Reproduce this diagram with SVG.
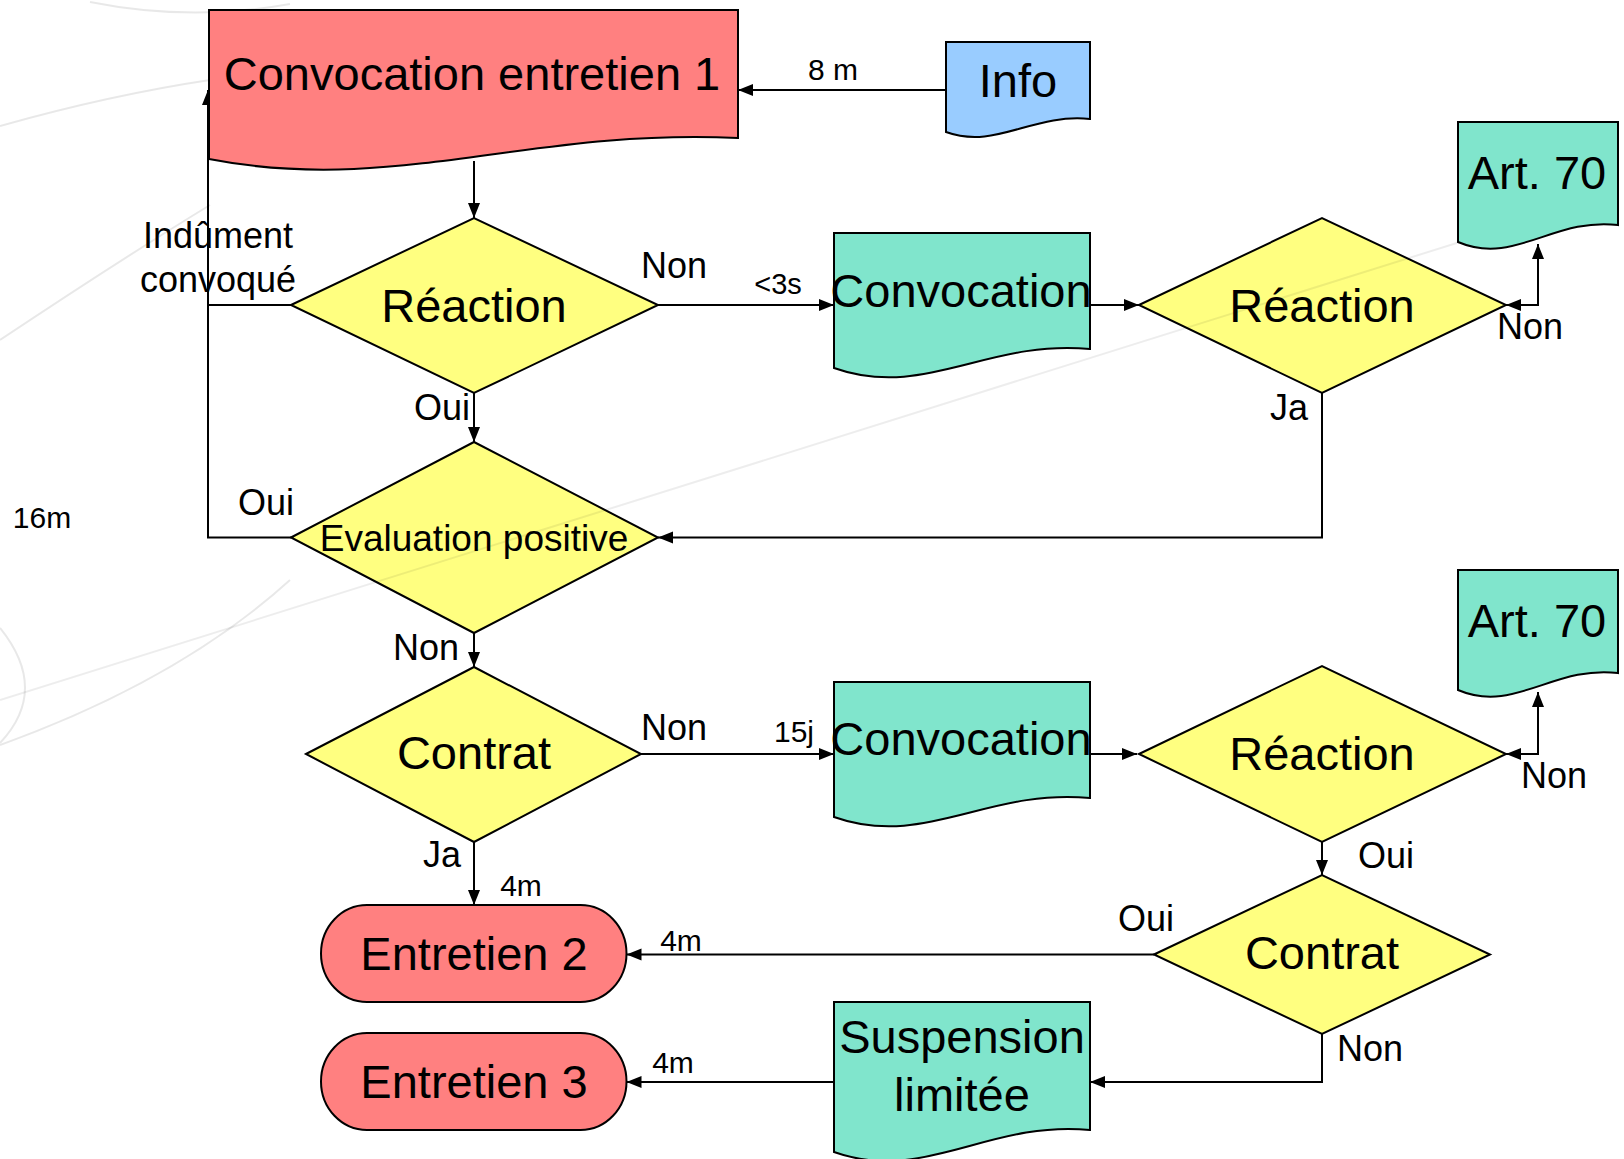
<svg xmlns="http://www.w3.org/2000/svg" width="1624" height="1159" viewBox="0 0 1624 1159">
<defs>
<marker id="arr" markerUnits="userSpaceOnUse" markerWidth="16" markerHeight="14" refX="15" refY="7" orient="auto-start-reverse">
<path d="M0,1 L15,7 L0,13 Z" fill="#000"/>
</marker>
</defs>
<style>
.bg{fill:none;stroke:#000;stroke-opacity:0.09;stroke-width:2}
.doc,.dia,.term{stroke:#000;stroke-width:2}
.red{fill:#FF8080}.blue{fill:#99CCFF}.teal{fill:#80E5CC}.yel{fill:#FFFF80}
.big{font-family:"Liberation Sans",Arial,sans-serif;font-size:47px;fill:#000;text-anchor:middle}
.mid{font-family:"Liberation Sans",Arial,sans-serif;font-size:37px;fill:#000;text-anchor:middle}
.lbl{font-family:"Liberation Sans",Arial,sans-serif;font-size:36px;fill:#000;text-anchor:middle}
.sm{font-family:"Liberation Sans",Arial,sans-serif;font-size:30px;fill:#000;text-anchor:middle}
.con{fill:none;stroke:#000;stroke-width:2}
</style>
<rect width="1624" height="1159" fill="#fff"/>
<g id="background">
<path class="bg" d="M0,126 Q110,95 210,80"/>
<path class="bg" d="M0,340 Q120,260 210,205"/>
<path class="bg" d="M0,745 Q180,680 290,580"/>
<path class="bg" d="M0,628 Q50,690 0,743"/>
<path class="bg" d="M90,2 Q190,22 290,4"/>
</g>
<g id="connectors">
<path class="con" d="M946,90 H738" marker-end="url(#arr)"/>
<path class="con" d="M474,161 V218" marker-end="url(#arr)"/>
<path class="con" d="M291,305 H208"/>
<path class="con" d="M291,537.5 H208 V90" marker-end="url(#arr)"/>
<path class="con" d="M658,305 H834" marker-end="url(#arr)"/>
<path class="con" d="M1090,305 H1139" marker-end="url(#arr)"/>
<path class="con" d="M1506,305 H1538 V244" marker-start="url(#arr)" marker-end="url(#arr)"/>
<path class="con" d="M1322,393 V537.5 H658" marker-end="url(#arr)"/>
<path class="con" d="M474,393 V442" marker-end="url(#arr)"/>
<path class="con" d="M474,633 V667" marker-end="url(#arr)"/>
<path class="con" d="M641,754 H834" marker-end="url(#arr)"/>
<path class="con" d="M1090,754 H1137" marker-end="url(#arr)"/>
<path class="con" d="M1506,754 H1538 V692" marker-start="url(#arr)" marker-end="url(#arr)"/>
<path class="con" d="M1322,842 V875" marker-end="url(#arr)"/>
<path class="con" d="M1154,954.5 H626.5" marker-end="url(#arr)"/>
<path class="con" d="M1322,1034 V1082 H1090" marker-end="url(#arr)"/>
<path class="con" d="M834,1082 H626.5" marker-end="url(#arr)"/>
<path class="con" d="M474,842 V905" marker-end="url(#arr)"/>
<text class="sm" x="833" y="80">8 m</text>
<text class="lbl" x="218" y="248">Indûment</text>
<text class="lbl" x="218" y="292">convoqué</text>
<text class="lbl" x="674" y="278">Non</text>
<text class="sm" x="778" y="294" style="font-size:29px">&lt;3s</text>
<text class="lbl" x="442" y="420">Oui</text>
<text class="lbl" x="266" y="515">Oui</text>
<text class="sm" x="42" y="528">16m</text>
<text class="lbl" x="1289" y="420">Ja</text>
<text class="lbl" x="1530" y="339">Non</text>
<text class="lbl" x="426" y="660">Non</text>
<text class="lbl" x="674" y="740">Non</text>
<text class="sm" x="794" y="742">15j</text>
<text class="lbl" x="442" y="867">Ja</text>
<text class="sm" x="521" y="896">4m</text>
<text class="sm" x="681" y="951">4m</text>
<text class="sm" x="673" y="1073">4m</text>
<text class="lbl" x="1554" y="788">Non</text>
<text class="lbl" x="1386" y="868">Oui</text>
<text class="lbl" x="1146" y="931">Oui</text>
<text class="lbl" x="1370" y="1061">Non</text>
</g>
<g id="convocation-entretien-1">
<path class="doc red" d="M209,10 H738 V138 C526,128 394,195 209,159 Z"/>
<text class="big" x="472" y="90">Convocation entretien 1</text>
</g>
<g id="info">
<path class="doc blue" d="M946,42 H1090 V119 C1032,113 996,150 946,132 Z"/>
<text class="big" x="1018" y="97">Info</text>
</g>
<g id="reaction-1">
<path class="dia yel" d="M291,305 L474,218 L658,305 L474,393 Z"/>
<text class="big" x="474" y="322">Réaction</text>
</g>
<g id="convocation-1">
<path class="doc teal" d="M834,233 H1090 V349 C988,339 924,400 834,368 Z"/>
<text class="big" x="961" y="307">Convocation</text>
</g>
<g id="reaction-2">
<path class="dia yel" d="M1139,305 L1322,218 L1506,305 L1322,393 Z"/>
<text class="big" x="1322" y="322">Réaction</text>
</g>
<g id="art70-1">
<path class="doc teal" d="M1458,122 H1618 V225 C1554,217 1514,266 1458,242 Z"/>
<text class="big" x="1537" y="189">Art. 70</text>
</g>
<g id="evaluation-positive">
<path class="dia yel" d="M291,537.5 L474,442 L658,537.5 L474,633 Z"/>
<text class="mid" x="474" y="551">Evaluation positive</text>
</g>
<g id="contrat-1">
<path class="dia yel" d="M306,754 L474,667 L641,754 L474,842 Z"/>
<text class="big" x="474" y="769">Contrat</text>
</g>
<g id="convocation-2">
<path class="doc teal" d="M834,682 H1090 V798 C988,788 924,849 834,817 Z"/>
<text class="big" x="961" y="755">Convocation</text>
</g>
<g id="reaction-3">
<path class="dia yel" d="M1139,754 L1322,666 L1506,754 L1322,842 Z"/>
<text class="big" x="1322" y="770">Réaction</text>
</g>
<g id="art70-2">
<path class="doc teal" d="M1458,570 H1618 V673 C1554,665 1514,714 1458,690 Z"/>
<text class="big" x="1537" y="637">Art. 70</text>
</g>
<g id="contrat-2">
<path class="dia yel" d="M1154,954.5 L1322,875 L1490,954.5 L1322,1034 Z"/>
<text class="big" x="1322" y="969">Contrat</text>
</g>
<g id="entretien-2">
<rect class="term red" x="321" y="905" width="305.5" height="97" rx="46" ry="48.5"/>
<text class="big" x="474" y="970">Entretien 2</text>
</g>
<g id="entretien-3">
<rect class="term red" x="321" y="1033" width="305.5" height="97" rx="46" ry="48.5"/>
<text class="big" x="474" y="1098">Entretien 3</text>
</g>
<g id="suspension-limitee">
<path class="doc teal" d="M834,1002 H1090 V1130 C988,1120 924,1184 834,1152 Z"/>
<text class="big" x="962" y="1053">Suspension</text>
<text class="big" x="962" y="1111">limitée</text>
</g>
<g id="overlay">
<path class="bg" d="M1460,242 L0,700" style="stroke-opacity:0.07"/>
</g>
</svg>
